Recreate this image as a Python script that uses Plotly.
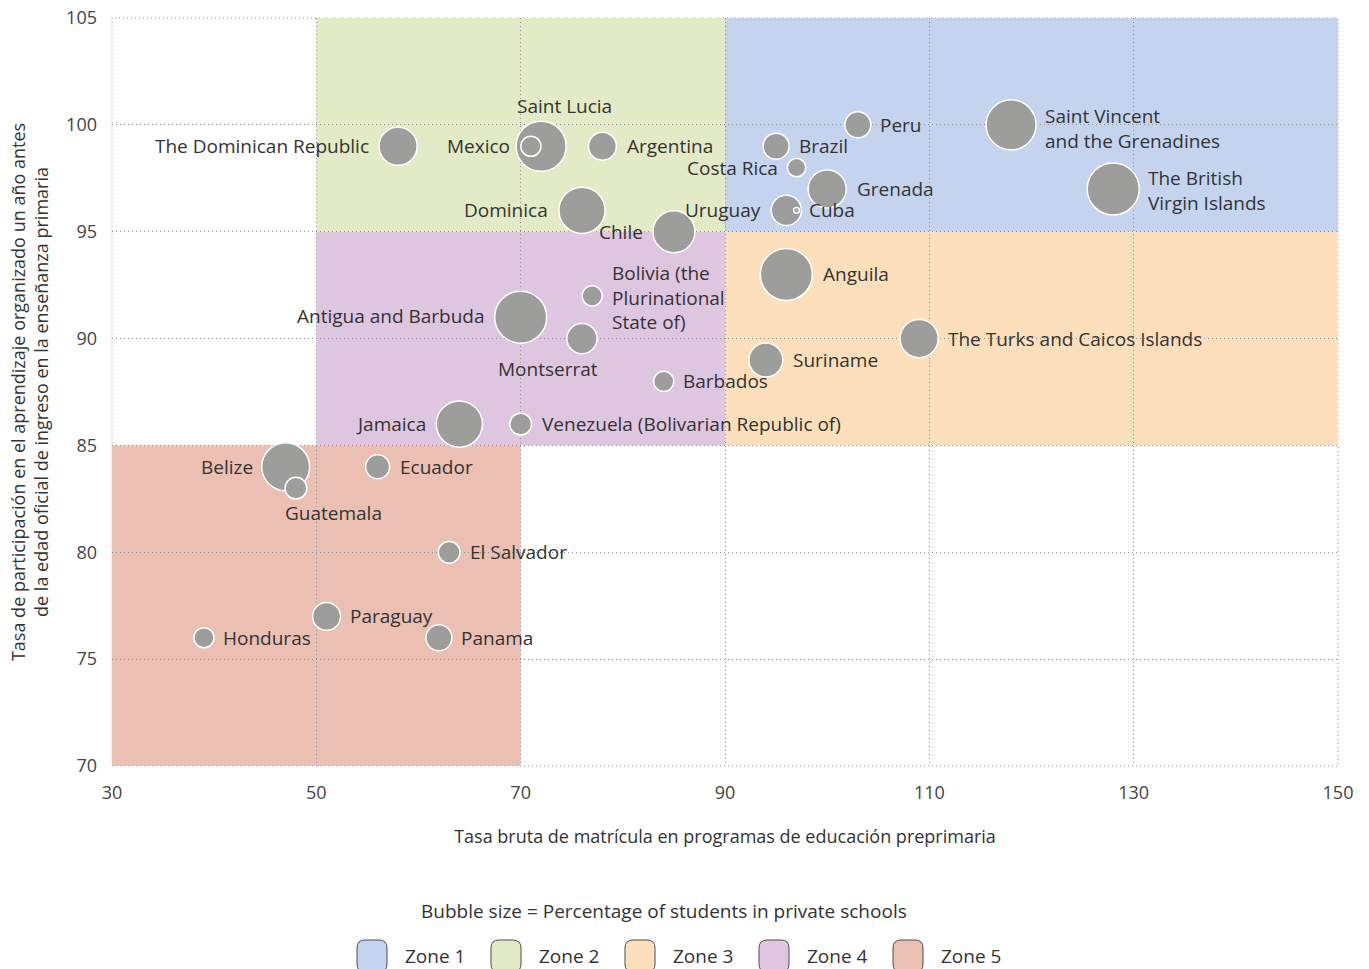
import plotly.graph_objects as go

# data
countries = ["The Dominican Republic", "Mexico", "Saint Lucia", "Argentina", "Dominica",
             "Chile", "Uruguay", "Cuba", "Costa Rica", "Brazil", "Peru", "Grenada",
             "Saint Vincent<br>and the Grenadines", "The British<br>Virgin Islands", "Anguila",
             "The Turks and Caicos Islands", "Suriname", "Barbados",
             "Venezuela (Bolivarian Republic of)", "Jamaica", "Montserrat",
             "Antigua and Barbuda", "Bolivia (the<br>Plurinational<br>State of)", "Belize",
             "Guatemala", "Ecuador", "El Salvador", "Paraguay", "Panama", "Honduras"]
gross_enrolment = [58, 71, 72, 78, 76, 85, 96, 97, 97, 95, 103, 100, 118, 128, 96,
                   109, 94, 84, 70, 64, 76, 70, 77, 47, 48, 56, 63, 51, 62, 39]
participation = [99, 99, 99, 99, 96, 95, 96, 96, 98, 99, 100, 97, 100, 97, 93,
                 90, 89, 88, 86, 86, 90, 91, 92, 84, 83, 84, 80, 77, 76, 76]
private_pct = [43, 12, 74, 23, 63, 52, 27, 1, 10, 20, 20, 43, 74, 80, 80,
               43, 34, 12, 14, 63, 27, 80, 12, 68, 14, 17, 14, 23, 20, 12]

zones = ["Zone 1", "Zone 2", "Zone 3", "Zone 4", "Zone 5"]
zone_x = [(90, 150), (50, 90), (90, 150), (50, 90), (30, 70)]
zone_y = [(95, 105), (95, 105), (85, 95), (85, 95), (70, 85)]
zone_colors = ["#c5d4ee", "#e3eac6", "#fde0bb", "#dfc6e0", "#ebc0b3"]

# label placement: (xanchor, xshift, yshift)
placement = {
    "The Dominican Republic": ("right", -27, 0),
    "Mexico": ("right", -19, 0),
    "Saint Lucia": ("center", 23, 40),
    "Argentina": ("left", 23, 0),
    "Dominica": ("right", -32, 0),
    "Chile": ("right", -29, 0),
    "Uruguay": ("right", -23, 0),
    "Cuba": ("left", 10, 0),
    "Costa Rica": ("right", -17, 0),
    "Brazil": ("left", 21, 0),
    "Peru": ("left", 20, 0),
    "Grenada": ("left", 28, 0),
    "Saint Vincent<br>and the Grenadines": ("left", 32, -4),
    "The British<br>Virgin Islands": ("left", 33, -2),
    "Anguila": ("left", 35, 0),
    "The Turks and Caicos Islands": ("left", 27, 0),
    "Suriname": ("left", 25, 0),
    "Barbados": ("left", 17, 0),
    "Venezuela (Bolivarian Republic of)": ("left", 19, 0),
    "Jamaica": ("right", -31, 0),
    "Montserrat": ("center", -34, -30),
    "Antigua and Barbuda": ("right", -34, 1),
    "Bolivia (the<br>Plurinational<br>State of)": ("left", 18, -2),
    "Belize": ("right", -31, 0),
    "Guatemala": ("center", 38, -25),
    "Ecuador": ("left", 20, 0),
    "El Salvador": ("left", 19, 0),
    "Paraguay": ("left", 21, 0),
    "Panama": ("left", 20, 0),
    "Honduras": ("left", 17, 0),
}

FONT = "Open Sans"
TXT = "#333333"
DOTS = "1px,3px"
GRID = "#8f8f8f"

W, H = 1369, 969
ML, MR, MT, MB = 112, 31, 18, 203
PW, PH = W - ML - MR, H - MT - MB


def px_x(px):
    # page pixel -> paper fraction
    return (px - ML) / PW


def px_y(py):
    return 1 - (py - MT) / PH


fig = go.Figure()

for name, (x0, x1), (y0, y1), col in zip(zones, zone_x, zone_y, zone_colors):
    fig.add_shape(type="rect", xref="x", yref="y", x0=x0, x1=x1, y0=y0, y1=y1,
                  fillcolor=col, line_width=0, layer="below")

# dotted frame round the plot area (plotly skips grid lines at the range ends)
fig.add_shape(type="rect", xref="paper", yref="paper", x0=0, x1=1, y0=0, y1=1,
              line=dict(color=GRID, width=1, dash=DOTS), fillcolor="rgba(0,0,0,0)",
              layer="below")

# big bubbles first so the small ones stay visible on top
order = sorted(range(len(countries)), key=lambda i: -private_pct[i])
fig.add_trace(go.Scatter(
    x=[gross_enrolment[i] for i in order],
    y=[participation[i] for i in order],
    mode="markers",
    marker=dict(size=[private_pct[i] for i in order], sizemode="area",
                sizeref=2 * 80 / 52 ** 2,
                color="#9d9d9c", line=dict(color="white", width=1.5), opacity=1),
    hovertext=[countries[i] for i in order],
    showlegend=False,
))

for c, x, y in zip(countries, gross_enrolment, participation):
    anchor, dx, dy = placement[c]
    fig.add_annotation(x=x, y=y, text=c, showarrow=False, xanchor=anchor, yanchor="middle",
                       xshift=dx, yshift=dy, align="left",
                       font=dict(family=FONT, size=19, color=TXT))

# legend drawn below the chart
fig.add_annotation(xref="paper", yref="paper", x=px_x(664), y=px_y(911),
                   text="Bubble size = Percentage of students in private schools",
                   showarrow=False, xanchor="center", yanchor="middle",
                   font=dict(family=FONT, size=19, color=TXT))


def rounded_box(x0, x1, y0, y1, r):
    # rounded rectangle path in paper coords, corners of r pixels
    rx, ry = r / PW, r / PH
    X0, X1, Y0, Y1 = px_x(x0), px_x(x1), px_y(y1), px_y(y0)
    return (f"M{X0 + rx},{Y0} L{X1 - rx},{Y0} Q{X1},{Y0} {X1},{Y0 + ry} "
            f"L{X1},{Y1 - ry} Q{X1},{Y1} {X1 - rx},{Y1} L{X0 + rx},{Y1} "
            f"Q{X0},{Y1} {X0},{Y1 - ry} L{X0},{Y0 + ry} Q{X0},{Y0} {X0 + rx},{Y0} Z")


for k, (name, col) in enumerate(zip(zones, zone_colors)):
    left = 357 + k * 134
    fig.add_shape(type="path", xref="paper", yref="paper",
                  path=rounded_box(left, left + 30, 940, 972, 8),
                  fillcolor=col, line=dict(color="#4d4d4d", width=1))
    fig.add_annotation(xref="paper", yref="paper", x=px_x(left + 46), y=px_y(956),
                       text=name, showarrow=False, xanchor="left", yanchor="middle",
                       font=dict(family=FONT, size=19, color=TXT))

grid = dict(showgrid=True, gridcolor=GRID, gridwidth=1, griddash=DOTS,
            zeroline=False, showline=False, ticks="", ticklabeloverflow="allow",
            tickfont=dict(family=FONT, size=18, color="#444"))

fig.update_xaxes(range=[30, 150], tick0=30, dtick=20, ticklabelstandoff=14,
                 title=dict(text="Tasa bruta de matrícula en programas de educación preprimaria",
                            font=dict(family=FONT, size=18, color=TXT), standoff=27),
                 **grid)
fig.update_yaxes(range=[70, 105], tick0=70, dtick=5, ticklabelstandoff=14,
                 title=dict(text="Tasa de participación en el aprendizaje organizado un año antes<br>"
                                 "de la edad oficial de ingreso en la enseñanza primaria",
                            font=dict(family=FONT, size=18, color=TXT), standoff=12),
                 **grid)

fig.update_layout(
    width=W, height=H,
    margin=dict(l=ML, r=MR, t=MT, b=MB, autoexpand=False),
    plot_bgcolor="white", paper_bgcolor="white",
    font=dict(family=FONT, color=TXT),
    showlegend=False,
)

# drop the browser's default body margin so the figure fills the window
fig.write_html("out.html", config={"displayModeBar": False},
               post_script="document.body.style.margin='0';")
